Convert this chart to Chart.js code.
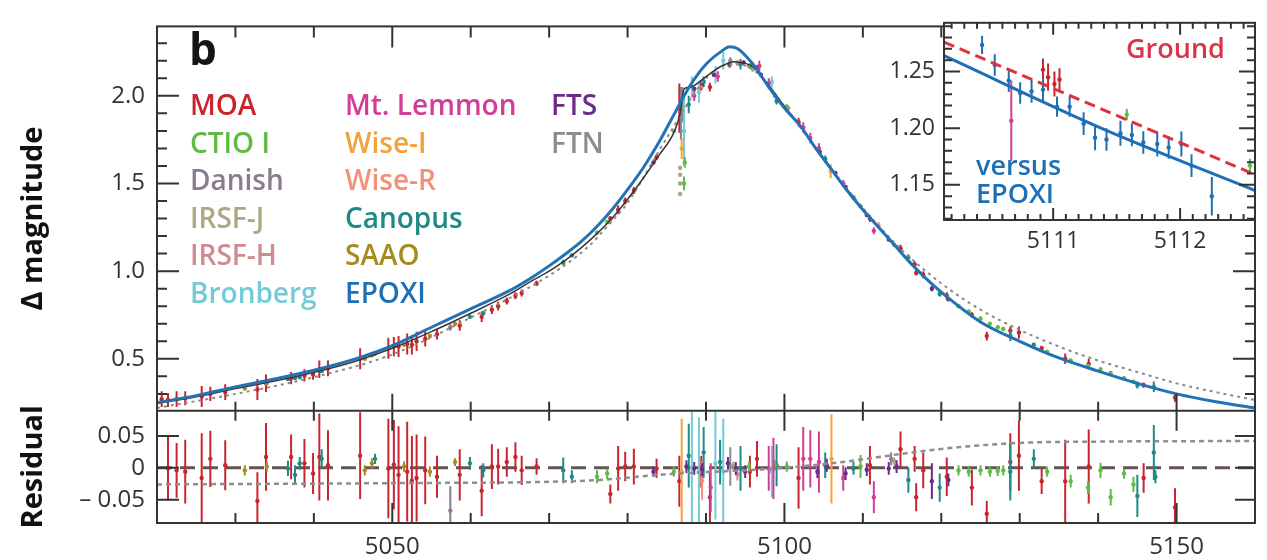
<!DOCTYPE html>
<html>
<head>
<meta charset="utf-8">
<script src="https://cdn.jsdelivr.net/npm/chart.js"></script>
<style>
  html, body { margin: 0; padding: 0; background: #fff; }
  #wrap { position: relative; width: 1267px; height: 560px; }
  #main { position: absolute; left: 0; top: 0; }
  #inset { position: absolute; left: 880px; top: 0; }
</style>
</head>
<body>
<div id="wrap">
  <canvas id="main" width="1267" height="560"></canvas>
  <canvas id="inset" width="387" height="260"></canvas>
</div>
<script>
// Telescope colours and legend columns
const colors = {
  'MOA': '#c9252f', 'CTIO I': '#5dbb46', 'Danish': '#8b7b8e', 'IRSF-J': '#aca883',
  'IRSF-H': '#cf8b8f', 'Bronberg': '#72cbd7', 'Mt. Lemmon': '#d23d98', 'Wise-I': '#f2a23a',
  'Wise-R': '#f1917b', 'Canopus': '#1d8a85', 'SAAO': '#a68b20', 'EPOXI': '#1e6fb4',
  'FTS': '#6b2b88', 'FTN': '#8c8c8c'
};
const legendCols = [
  ['MOA', 'CTIO I', 'Danish', 'IRSF-J', 'IRSF-H', 'Bronberg'],
  ['Mt. Lemmon', 'Wise-I', 'Wise-R', 'Canopus', 'SAAO', 'EPOXI'],
  ['FTS', 'FTN']
];

// Model curves (main panel)
const blueX = [5020, 5025, 5030, 5035, 5040, 5045, 5050, 5055, 5060, 5065, 5068, 5070, 5072, 5074, 5076, 5078, 5080, 5082, 5084, 5086, 5088, 5090, 5092, 5093, 5094, 5096, 5098, 5100, 5102, 5104, 5106, 5108, 5110, 5112, 5114, 5116, 5118, 5120, 5125, 5130, 5135, 5140, 5145, 5150, 5155, 5160];
const blueY = [0.25, 0.29, 0.34, 0.385, 0.435, 0.495, 0.575, 0.68, 0.785, 0.89, 0.97, 1.03, 1.095, 1.165, 1.25, 1.35, 1.465, 1.59, 1.735, 1.90, 2.06, 2.18, 2.255, 2.28, 2.27, 2.18, 2.05, 1.93, 1.83, 1.70, 1.58, 1.46, 1.35, 1.25, 1.15, 1.05, 0.96, 0.88, 0.71, 0.60, 0.505, 0.43, 0.36, 0.30, 0.255, 0.22];
const darkX = [5020, 5025, 5030, 5035, 5040, 5045, 5050, 5055, 5060, 5065, 5068, 5070, 5072, 5074, 5076, 5078, 5080, 5082, 5084, 5086, 5086.7, 5087.2, 5088, 5090, 5092, 5093.5, 5095, 5096, 5098, 5100, 5102, 5104, 5106, 5108, 5110, 5112, 5114, 5116, 5118, 5120, 5125, 5130, 5135, 5140, 5145, 5150, 5155, 5160];
const darkY = [0.245, 0.283, 0.33, 0.373, 0.423, 0.482, 0.56, 0.655, 0.76, 0.87, 0.95, 1.0, 1.06, 1.13, 1.21, 1.30, 1.41, 1.53, 1.66, 1.80, 1.90, 2.04, 2.05, 2.11, 2.17, 2.195, 2.185, 2.165, 2.06, 1.94, 1.83, 1.70, 1.58, 1.46, 1.35, 1.25, 1.15, 1.05, 0.96, 0.88, 0.71, 0.60, 0.505, 0.43, 0.36, 0.30, 0.255, 0.22];
const dotX = [5020, 5030, 5040, 5050, 5060, 5070, 5075, 5077.5, 5080, 5085, 5090, 5093, 5096, 5100, 5105, 5110, 5115, 5120, 5125, 5130, 5135, 5140, 5145, 5150, 5155, 5160];
const dotY = [0.22, 0.30, 0.395, 0.525, 0.735, 0.975, 1.14, 1.26, 1.39, 1.76, 2.10, 2.18, 2.15, 1.94, 1.64, 1.36, 1.12, 0.93, 0.78, 0.665, 0.57, 0.49, 0.425, 0.36, 0.31, 0.265];

// Residual panel reference lines
const zeroX = [5020, 5160];
const zeroY = [0, 0];
const resDotX = [5020, 5050, 5075, 5085, 5100, 5108, 5115, 5122, 5130, 5140, 5160];
const resDotY = [-0.026, -0.024, -0.02, -0.01, 0.0, 0.01, 0.022, 0.032, 0.039, 0.041, 0.042];

// Photometry, main panel: [day, delta mag, error]
const moaMain = [[5020.6,0.27,0.045],[5021.4,0.265,0.04],[5022.5,0.27,0.045],[5023.6,0.275,0.04],[5025.7,0.285,0.06],[5026.8,0.30,0.04],[5028.7,0.31,0.045],[5032.8,0.325,0.06],[5033.9,0.36,0.05],[5037.1,0.39,0.035],[5038.8,0.405,0.035],[5039.9,0.41,0.03],[5040.7,0.44,0.05],[5041.8,0.445,0.045],[5045.9,0.50,0.06],[5049.5,0.56,0.06],[5050.2,0.57,0.055],[5050.8,0.57,0.06],[5051.9,0.585,0.06],[5052.5,0.58,0.055],[5053.1,0.60,0.055],[5054.2,0.615,0.045],[5055.7,0.64,0.03],[5058.6,0.69,0.03],[5061.4,0.74,0.03],[5062.7,0.78,0.025],[5063.5,0.80,0.025],[5064.6,0.83,0.02],[5065.7,0.86,0.02],[5066.5,0.875,0.02],[5068.4,0.93,0.015],[5077.8,1.30,0.015],[5078.8,1.35,0.025],[5079.7,1.40,0.02],[5080.8,1.46,0.02],[5083.7,1.65,0.015],[5086.6,1.93,0.14],[5089.4,2.05,0.02],[5090.5,2.05,0.025],[5095.6,2.17,0.015],[5096.5,2.16,0.015],[5101.8,1.85,0.025],[5110.9,1.30,0.02],[5114.8,1.13,0.02],[5116.6,1.04,0.015],[5116.8,0.99,0.015],[5117.7,0.98,0.02],[5120.7,0.86,0.02],[5123.9,0.75,0.015],[5125.8,0.63,0.025],[5128.8,0.66,0.025],[5129.9,0.65,0.035],[5132.8,0.56,0.015],[5135.8,0.50,0.03],[5138.8,0.47,0.03],[5145.8,0.35,0.015],[5149.8,0.28,0.025]];
const canopusMain = [[5036.7,0.385,0.01],[5037.6,0.39,0.01],[5038.2,0.395,0.01],[5041.0,0.43,0.01],[5047.8,0.53,0.01],[5059.9,0.74,0.01],[5061.6,0.76,0.01],[5071.8,1.05,0.015],[5072.9,1.09,0.01],[5087.8,1.95,0.05],[5089.7,2.08,0.03],[5094.4,2.18,0.03],[5099.0,1.97,0.02],[5105.2,1.64,0.02],[5108.8,1.42,0.01],[5115.8,1.08,0.015],[5119.8,0.87,0.015],[5128.8,0.63,0.03],[5131.8,0.58,0.01],[5145.0,0.35,0.02],[5147.1,0.34,0.03]];
const saaoMain = [[5031.2,0.33,0.008],[5034.0,0.36,0.008],[5046.5,0.50,0.008],[5047.4,0.52,0.008],[5051.5,0.58,0.008],[5054.8,0.63,0.008],[5058.0,0.70,0.008]];
const ctioMain = [[5076.1,1.22,0.01],[5077.4,1.28,0.01],[5085.9,1.80,0.01],[5087.2,1.50,0.04],[5087.3,1.62,0.03],[5095.5,2.17,0.01],[5098.8,2.0,0.01],[5100.3,1.94,0.01],[5109.7,1.37,0.01],[5122.2,0.80,0.01],[5123.5,0.77,0.01],[5125.0,0.73,0.01],[5126.2,0.70,0.01],[5127.2,0.68,0.01],[5127.9,0.67,0.01],[5133.5,0.54,0.01],[5136.5,0.49,0.01],[5138.7,0.46,0.01],[5140.3,0.44,0.01],[5141.6,0.42,0.01],[5143.3,0.39,0.01],[5144.5,0.37,0.01]];
const ftsMain = [[5083.3,1.62,0.01],[5088.5,2.04,0.01],[5089.5,2.07,0.01],[5091.0,2.12,0.01],[5093.0,2.18,0.01],[5094.8,2.19,0.01],[5097.0,2.12,0.01],[5104.5,1.68,0.01],[5106.5,1.56,0.01],[5107.8,1.48,0.01],[5110.5,1.32,0.01],[5113.3,1.18,0.01],[5118.8,0.90,0.015],[5120.9,0.84,0.01]];
const lemmonMain = [[5088.5,2.0,0.03],[5091.5,2.11,0.03],[5096.8,2.17,0.03],[5098.0,2.07,0.03],[5102.4,1.82,0.03],[5103.3,1.76,0.03],[5104.4,1.70,0.03],[5107.5,1.50,0.02],[5111.4,1.23,0.02]];
const bronbergMain = [[5087.2,1.80,0.2],[5088.2,2.05,0.06],[5089.1,2.02,0.06],[5091.2,2.12,0.05],[5092.2,2.20,0.05],[5098.4,2.08,0.03]];
const wiseIMain = [[5086.9,1.70,0.06],[5105.9,1.57,0.04]];
const danishMain = [[5057.4,0.68,0.02],[5086.8,1.90,0.15],[5114.0,1.15,0.01]];
const ftnMain = [[5093.1,2.20,0.02],[5087.0,1.95,0.1]];
const irsfJMain = [[5086.7,1.59,0.01],[5086.7,1.55,0.01],[5086.7,1.50,0.01],[5086.7,1.44,0.01],[5093.0,2.17,0.01],[5096.0,2.15,0.01]];
const irsfHMain = [[5094.0,2.19,0.01],[5100.5,1.93,0.01]];
const wiseRMain = [[5089.5,2.06,0.02],[5112.0,1.26,0.02]];

// Residuals: [day, residual, error]
const moaRes = [[5021.4,-0.001,0.05],[5022.5,-0.004,0.043],[5023.6,-0.006,0.05],[5025.7,-0.016,0.07],[5026.8,0.014,0.044],[5028.7,0.004,0.039],[5032.8,-0.052,0.045],[5033.9,0.017,0.053],[5037.1,0.017,0.035],[5038.8,0.007,0.038],[5039.9,-0.009,0.032],[5040.7,0.017,0.068],[5041.8,0.004,0.055],[5045.9,0.019,0.068],[5049.5,-0.001,0.078],[5050.2,0.005,0.07],[5050.8,-0.011,0.076],[5051.9,-0.006,0.078],[5052.5,-0.02,0.07],[5053.1,-0.016,0.068],[5054.2,-0.004,0.053],[5055.7,-0.014,0.033],[5058.6,-0.011,0.04],[5061.4,-0.036,0.04],[5062.7,0.002,0.035],[5063.5,0.002,0.028],[5064.6,0.009,0.023],[5065.7,0.017,0.023],[5066.5,-0.004,0.023],[5068.4,0.002,0.013],[5077.8,-0.041,0.015],[5078.8,-0.001,0.035],[5079.7,0.002,0.023],[5080.8,0.002,0.028],[5083.7,-0.001,0.015],[5086.6,-0.021,0.04],[5089.4,-0.006,0.025],[5090.5,-0.046,0.043],[5095.6,-0.006,0.025],[5096.5,0.014,0.028],[5101.8,-0.016,0.048],[5110.9,0.004,0.03],[5114.8,0.029,0.028],[5116.6,0.014,0.02],[5116.8,-0.046,0.022],[5117.7,-0.004,0.028],[5120.7,-0.014,0.03],[5123.9,-0.031,0.028],[5125.8,-0.072,0.02],[5128.8,0.009,0.045],[5129.9,0.019,0.055],[5132.8,-0.021,0.02],[5135.8,-0.021,0.065],[5138.8,0.002,0.058],[5145.8,-0.016,0.023],[5149.8,-0.062,0.03]];
const canopusRes = [[5036.7,-0.001,0.012],[5037.6,-0.011,0.015],[5038.2,0.007,0.01],[5041.0,0.014,0.015],[5047.8,0.014,0.008],[5059.9,0.007,0.01],[5061.6,-0.004,0.011],[5071.8,-0.004,0.02],[5072.9,-0.014,0.01],[5087.8,0.019,0.05],[5089.7,0.024,0.04],[5091.8,0.009,0.035],[5094.4,-0.001,0.035],[5099.0,0.004,0.033],[5105.2,0.004,0.02],[5108.8,-0.001,0.01],[5115.8,-0.019,0.02],[5119.8,-0.031,0.022],[5128.8,-0.006,0.045],[5131.8,0.014,0.015],[5145.0,-0.044,0.033],[5147.1,0.024,0.043],[5147.3,-0.014,0.01]];
const saaoRes = [[5031.2,-0.004,0.008],[5034.0,0.002,0.008],[5046.5,-0.004,0.008],[5047.4,0.007,0.008],[5051.5,0.002,0.008],[5054.8,-0.006,0.008],[5058.0,0.009,0.006]];
const ctioRes = [[5076.1,-0.014,0.01],[5077.4,-0.009,0.008],[5085.9,-0.006,0.008],[5095.5,0.002,0.008],[5098.8,0.004,0.008],[5100.3,0.002,0.008],[5109.7,0.002,0.018],[5122.2,-0.004,0.008],[5123.5,-0.006,0.008],[5125.0,-0.004,0.008],[5126.2,-0.006,0.008],[5127.2,-0.005,0.008],[5127.9,-0.004,0.008],[5133.5,-0.006,0.008],[5136.5,-0.021,0.01],[5138.7,-0.031,0.01],[5140.3,-0.004,0.012],[5141.6,-0.046,0.013],[5143.3,-0.009,0.008],[5144.5,-0.026,0.012]];
const ftsRes = [[5083.3,-0.006,0.008],[5087.5,0.002,0.01],[5088.5,-0.001,0.01],[5089.5,-0.003,0.01],[5092.8,0.007,0.01],[5093.8,-0.001,0.01],[5095.0,-0.006,0.01],[5104.2,-0.006,0.01],[5105.4,0.004,0.01],[5107.8,-0.009,0.01],[5110.5,-0.003,0.01],[5113.3,-0.001,0.01],[5114.3,0.002,0.01],[5118.8,-0.021,0.028],[5120.9,-0.019,0.01]];
const lemmonRes = [[5090.6,-0.031,0.038],[5098.0,-0.001,0.035],[5098.6,-0.001,0.048],[5102.4,0.014,0.05],[5103.3,0.014,0.045],[5104.4,0.009,0.048],[5107.5,-0.016,0.02],[5111.4,-0.046,0.025]];
const bronbergRes = [[5088.2,0.001,0.088],[5089.1,-0.006,0.085],[5091.2,0.007,0.088],[5092.2,-0.006,0.083],[5098.4,-0.006,0.04]];
const wiseIRes = [[5086.9,-0.006,0.083],[5106.0,0.014,0.07]];
const danishRes = [[5057.4,-0.067,0.038],[5113.6,0.014,0.01]];
const ftnRes = [[5093.1,0.002,0.03]];
const irsfJRes = [[5093.5,0.004,0.006],[5114.0,0.01,0.006]];
const irsfHRes = [[5094.0,-0.01,0.01]];
const wiseRRes = [[5089.5,-0.02,0.03]];

// Inset: zoom on 5110-5112.6
const insetLineX = [5110.14, 5111.4, 5112.59];
const insetEpoxiLine = [1.264, 1.199, 1.145];
const insetGroundLine = [1.276, 1.216, 1.159];
const insetEpoxi = [[5110.44,1.2735,0.008],[5110.54,1.2557,0.0095],[5110.65,1.242,0.01],[5110.74,1.231,0.0095],[5110.83,1.2325,0.01],[5110.92,1.234,0.01],[5111.03,1.219,0.009],[5111.13,1.219,0.009],[5111.24,1.204,0.01],[5111.33,1.1916,0.011],[5111.42,1.19,0.01],[5111.53,1.1956,0.011],[5111.62,1.194,0.01],[5111.71,1.1874,0.01],[5111.82,1.186,0.011],[5111.91,1.183,0.01],[5112.01,1.186,0.011],[5112.09,1.167,0.01],[5112.25,1.14,0.017]];
const insetMoa = [[5110.92,1.2516,0.01],[5110.96,1.245,0.012],[5111.01,1.239,0.011],[5111.05,1.243,0.01]];
const insetCtio = [[5111.58,1.212,0.005],[5112.55,1.167,0.006]];
const insetLemmon = [[5110.67,1.2066,0.0355]];

Chart.defaults.font.family = '"Open Sans", sans-serif';
Chart.defaults.color = '#333';

function pts(arr) { return arr.map(p => ({ x: p[0], y: p[1], e: p[2] })); }
function curve(xs, ys) { return xs.map((x, i) => ({ x: x, y: ys[i] })); }
function obs(name, arr, axis, order) {
  return {
    label: name, data: pts(arr), yAxisID: axis, showLine: false, errs: true, clip: false,
    borderColor: colors[name], backgroundColor: colors[name],
    pointRadius: 2.2, pointBorderWidth: 0, order: order
  };
}
function line(xs, ys, axis, color, width, dash, order) {
  return {
    data: curve(xs, ys), yAxisID: axis, borderColor: color, borderWidth: width, clip: false,
    borderDash: dash, pointRadius: 0, cubicInterpolationMode: 'monotone', order: order
  };
}

// vertical error bars, drawn just before each dataset's points
const errorBars = {
  id: 'errorBars',
  beforeDatasetDraw(chart, args) {
    const ds = chart.data.datasets[args.index];
    if (!ds.errs) return;
    const meta = args.meta, ys = meta.yScale, xs = meta.xScale, ctx = chart.ctx;
    ctx.save();
    ctx.beginPath();
    ctx.rect(xs.left, ys.top, xs.right - xs.left, ys.bottom - ys.top);
    ctx.clip();
    ctx.strokeStyle = ds.borderColor;
    ctx.lineWidth = 2;
    ctx.beginPath();
    meta.data.forEach((pt, i) => {
      const d = ds.data[i];
      ctx.moveTo(pt.x, ys.getPixelForValue(d.y + d.e));
      ctx.lineTo(pt.x, ys.getPixelForValue(d.y - d.e));
    });
    ctx.stroke();
    ctx.restore();
  }
};

function marks(ctx, scale, vals, pos, a, b) {
  vals.forEach(v => {
    const p = scale.getPixelForValue(v);
    if (scale.isHorizontal()) { ctx.moveTo(p, pos + a); ctx.lineTo(p, pos + b); }
    else { ctx.moveTo(pos + a, p); ctx.lineTo(pos + b, p); }
  });
}

// frame, inward ticks, legend and panel letter of the main figure
const mainDecor = {
  id: 'mainDecor',
  afterDraw(chart) {
    const ctx = chart.ctx, xs = chart.scales.x, ym = chart.scales.y, yr = chart.scales.yRes;
    const L = xs.left, R = xs.right, T = ym.top, M = ym.bottom, B = yr.bottom;
    const xMaj = [5050, 5100, 5150], xMin = [];
    for (let v = 5030; v < 5160; v += 10) if (!xMaj.includes(v)) xMin.push(v);
    const yMaj = [], yMin = [];
    for (let i = 3; i <= 23; i++) (i % 5 === 0 ? yMaj : yMin).push(i / 10);
    const rMaj = [-0.05, 0, 0.05];
    ctx.save();
    ctx.strokeStyle = '#333';
    ctx.lineWidth = 2;
    ctx.strokeRect(L, T, R - L, B - T);
    ctx.beginPath();
    ctx.moveTo(L, M); ctx.lineTo(R, M);
    marks(ctx, xs, xMin, T, 0, 11); marks(ctx, xs, xMaj, T, 0, 21);
    marks(ctx, xs, xMin, M, -9, 10); marks(ctx, xs, xMaj, M, -17, 20);
    marks(ctx, xs, xMin, B, -10, 0); marks(ctx, xs, xMaj, B, -20, 0);
    marks(ctx, ym, yMin, L, 0, 10); marks(ctx, ym, yMaj, L, 0, 22);
    marks(ctx, ym, yMin, R, -10, 0); marks(ctx, ym, yMaj, R, -22, 0);
    marks(ctx, yr, rMaj, L, 0, 22); marks(ctx, yr, rMaj, R, -20, 0);
    ctx.stroke();

    ctx.fillStyle = '#151515';
    ctx.font = 'bold 44px "Open Sans"';
    ctx.textBaseline = 'alphabetic';
    ctx.fillText('b', 189, 65);
    ctx.font = '600 28px "Open Sans"';
    const colX = [190, 345, 551];
    legendCols.forEach((col, c) => col.forEach((name, r) => {
      ctx.fillStyle = colors[name];
      ctx.fillText(name, colX[c], 115 + r * 37.6);
    }));
    ctx.restore();
  }
};

const mainDatasets = [
  line(blueX, blueY, 'y', '#2272b6', 3, [], 0),
  line(darkX, darkY, 'y', '#3d3535', 1.5, [], 0),
  line(dotX, dotY, 'y', '#8a8a8a', 2, [3, 4], 0),
  obs('FTS', ftsMain, 'y', 1), obs('Mt. Lemmon', lemmonMain, 'y', 1),
  obs('CTIO I', ctioMain, 'y', 2), obs('Canopus', canopusMain, 'y', 2),
  obs('SAAO', saaoMain, 'y', 2), obs('Bronberg', bronbergMain, 'y', 2),
  obs('Wise-I', wiseIMain, 'y', 2), obs('Danish', danishMain, 'y', 2),
  obs('FTN', ftnMain, 'y', 2), obs('IRSF-J', irsfJMain, 'y', 2),
  obs('IRSF-H', irsfHMain, 'y', 2), obs('Wise-R', wiseRMain, 'y', 2),
  obs('MOA', moaMain, 'y', 3),
  line(resDotX, resDotY, 'yRes', '#8f8f8f', 2.5, [5, 4], 0),
  obs('FTS', ftsRes, 'yRes', 1), obs('Mt. Lemmon', lemmonRes, 'yRes', 1),
  obs('CTIO I', ctioRes, 'yRes', 2), obs('Canopus', canopusRes, 'yRes', 2),
  obs('SAAO', saaoRes, 'yRes', 2), obs('Bronberg', bronbergRes, 'yRes', 2),
  obs('Wise-I', wiseIRes, 'yRes', 2), obs('Danish', danishRes, 'yRes', 2),
  obs('FTN', ftnRes, 'yRes', 2), obs('IRSF-J', irsfJRes, 'yRes', 2),
  obs('IRSF-H', irsfHRes, 'yRes', 2), obs('Wise-R', wiseRRes, 'yRes', 2),
  obs('MOA', moaRes, 'yRes', 3),
  line(zeroX, zeroY, 'yRes', '#655454', 3, [15, 8], 4)
];

const tickFont = { size: 24 };
const titleFont = { size: 29, weight: 'bold' };
new Chart(document.getElementById('main'), {
  type: 'line',
  data: { datasets: mainDatasets },
  options: {
    responsive: false, animation: false, events: [],
    layout: { padding: { top: 10, right: 12, left: 0, bottom: 0 } },
    plugins: { legend: { display: false }, tooltip: { enabled: false } },
    scales: {
      x: {
        type: 'linear', min: 5020, max: 5160, position: 'bottom',
        grid: { display: false, drawTicks: false }, border: { display: false },
        ticks: { font: tickFont, padding: 10, maxRotation: 0, autoSkip: false, callback: v => String(v) },
        afterBuildTicks: s => { s.ticks = [5050, 5100, 5150].map(v => ({ value: v })); },
        afterFit: s => { s.height = 37; }
      },
      // left boxes are stacked in reverse order, so the residual axis comes first
      yRes: {
        type: 'linear', axis: 'y', min: -0.0864, max: 0.0894, position: 'left', stack: 'v', stackWeight: 116,
        grid: { display: false, drawTicks: false }, border: { display: false },
        ticks: { font: tickFont, padding: 12, autoSkip: false, callback: v => v === 0 ? '0' : (v > 0 ? '0.05' : '\u2013 0.05') },
        afterBuildTicks: s => { s.ticks = [-0.05, 0, 0.05].map(v => ({ value: v })); },
        title: { display: true, text: 'Residual', color: '#111', font: titleFont, padding: { top: 16, bottom: 0 } },
        afterFit: s => { s.width = 157; }
      },
      y: {
        type: 'linear', min: 0.204, max: 2.396, position: 'left', stack: 'v', stackWeight: 397,
        grid: { display: false, drawTicks: false }, border: { display: false },
        ticks: { font: tickFont, padding: 12, autoSkip: false, callback: v => v.toFixed(1) },
        afterBuildTicks: s => { s.ticks = [0.5, 1.0, 1.5, 2.0].map(v => ({ value: v })); },
        title: { display: true, text: 'Δ magnitude', color: '#111', font: titleFont, padding: { top: 16, bottom: 0 } },
        afterFit: s => { s.width = 157; }
      }
    }
  },
  plugins: [errorBars, mainDecor]
});

// inset: white box, frame, ticks, labels
const insetDecor = {
  id: 'insetDecor',
  beforeDraw(chart) {
    const a = chart.chartArea, ctx = chart.ctx;
    ctx.save();
    ctx.fillStyle = '#fff';
    ctx.fillRect(a.left, a.top, a.right - a.left, a.bottom - a.top);
    ctx.restore();
  },
  afterDraw(chart) {
    const ctx = chart.ctx, xs = chart.scales.x, ys = chart.scales.y;
    const L = xs.left, R = xs.right, T = ys.top, B = ys.bottom;
    const xMaj = [], xMin = [], yMaj = [], yMin = [];
    for (let i = 51102; i <= 51125; i++) (i % 10 === 0 ? xMaj : xMin).push(i / 10);
    for (let i = 112; i <= 129; i++) (i % 5 === 0 ? yMaj : yMin).push(i / 100);
    ctx.save();
    ctx.strokeStyle = '#333';
    ctx.lineWidth = 2;
    ctx.strokeRect(L, T, R - L, B - T);
    ctx.beginPath();
    marks(ctx, xs, xMin, T, 0, 6); marks(ctx, xs, xMaj, T, 0, 12);
    marks(ctx, xs, xMin, B, -6, 0); marks(ctx, xs, xMaj, B, -12, 0);
    marks(ctx, ys, yMin, L, 0, 8); marks(ctx, ys, yMaj, L, 0, 16);
    marks(ctx, ys, yMin, R, -8, 0); marks(ctx, ys, yMaj, R, -16, 0);
    ctx.stroke();
    ctx.font = '600 27px "Open Sans"';
    ctx.fillStyle = '#d9344a';
    ctx.fillText('Ground', 246, 58);
    ctx.fillStyle = '#1f6fb5';
    ctx.fillText('versus', 96, 175);
    ctx.fillText('EPOXI', 96, 203);
    ctx.restore();
  }
};

new Chart(document.getElementById('inset'), {
  type: 'line',
  data: {
    datasets: [
      line(insetLineX, insetEpoxiLine, 'y', '#1f6fb5', 3, [], 0),
      line(insetLineX, insetGroundLine, 'y', '#e0323c', 3, [11, 6], 0),
      obs('EPOXI', insetEpoxi, 'y', 1), obs('MOA', insetMoa, 'y', 1),
      obs('CTIO I', insetCtio, 'y', 1), obs('Mt. Lemmon', insetLemmon, 'y', 1)
    ]
  },
  options: {
    responsive: false, animation: false, events: [],
    layout: { padding: { top: 10, right: 12, left: 0, bottom: 0 } },
    plugins: { legend: { display: false }, tooltip: { enabled: false } },
    scales: {
      x: {
        type: 'linear', min: 5110.14, max: 5112.59,
        grid: { display: false, drawTicks: false }, border: { display: false },
        ticks: { font: { size: 23 }, padding: 8, maxRotation: 0, autoSkip: false, callback: v => String(v) },
        afterBuildTicks: s => { s.ticks = [5111, 5112].map(v => ({ value: v })); },
        afterFit: s => { s.height = 40; }
      },
      y: {
        type: 'linear', min: 1.119, max: 1.293,
        grid: { display: false, drawTicks: false }, border: { display: false },
        ticks: { font: { size: 23 }, padding: 9, autoSkip: false, callback: v => v.toFixed(2) },
        afterBuildTicks: s => { s.ticks = [1.15, 1.20, 1.25].map(v => ({ value: v })); },
        afterFit: s => { s.width = 64; }
      }
    }
  },
  plugins: [errorBars, insetDecor]
});
</script>
</body>
</html>
